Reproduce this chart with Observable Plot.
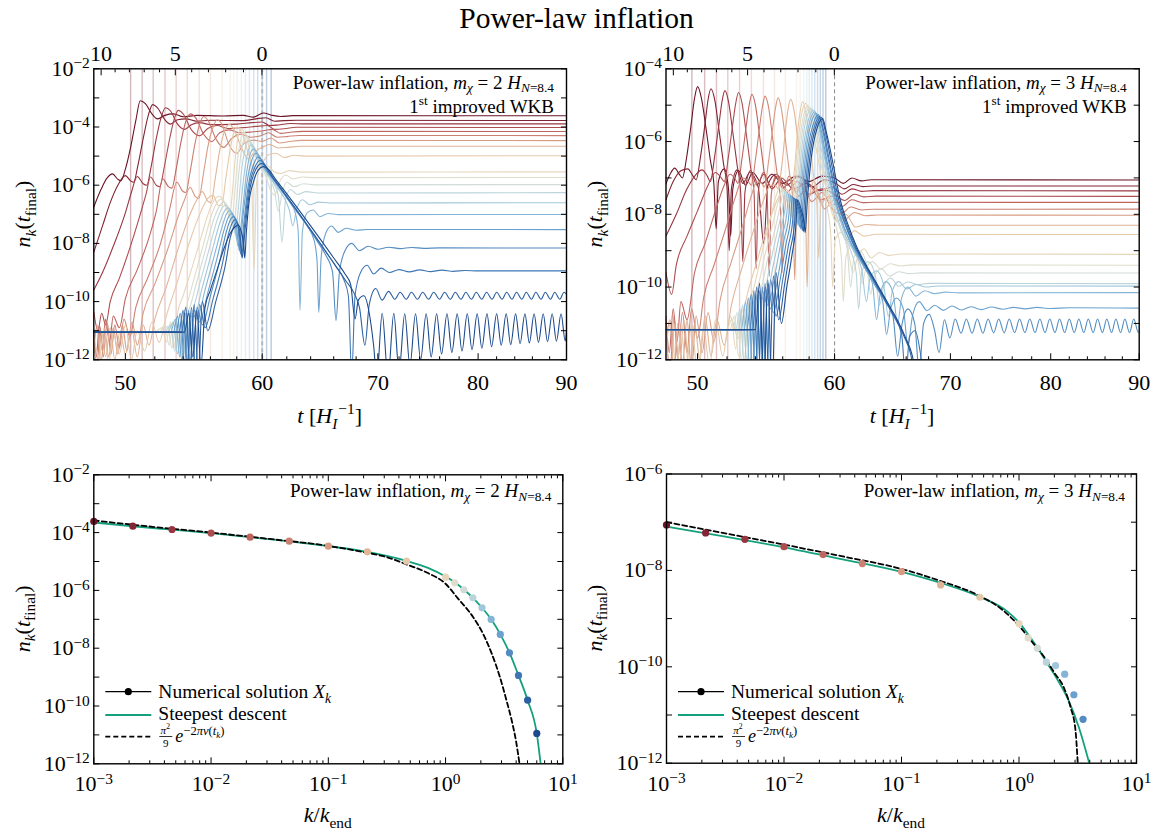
<!DOCTYPE html>
<html><head><meta charset="utf-8">
<script src="https://cdn.jsdelivr.net/npm/d3@7"></script>
<script src="https://cdn.jsdelivr.net/npm/@observablehq/plot@0.6"></script>
<style>
body{margin:0;background:#fff;}
#wrap{position:relative;width:1153px;height:832px;font-family:"Liberation Serif",serif;overflow:hidden;}
#title{position:absolute;left:0;top:2px;width:1153px;text-align:center;font-size:29.5px;color:#000;}
</style></head><body><div id="wrap"><div id="title">Power-law inflation</div></div>
<script>
// ---------------- DATA (log10 values) ----------------
// k / k_end of the 20 modes (log10)
const logK = [-3,-2.667,-2.333,-2,-1.667,-1.333,-1,-0.667,-0.333,0,0.078,0.156,0.233,0.311,0.389,0.467,0.545,0.622,0.700,0.778];
// final occupation numbers, m = 2H (log10)
const nkM2 = [-3.615,-3.776,-3.892,-4.018,-4.157,-4.295,-4.468,-4.664,-4.987,-5.541,-5.737,-5.979,-6.256,-6.602,-7.006,-7.525,-8.159,-8.943,-9.797,-10.95];
// final occupation numbers, m = 3H (log10) – visible modes only
const nkM3 = [-7.057,-7.223,-7.355,-7.507,-7.672,-7.859,-8.025,-8.301,-8.557,-9.103,-9.40,-9.614,-9.905,-9.974,-10.153,-10.58,-11.09];
// steepest descent curve [log10 k, log10 n]
const steepM2 = [[-3,-3.65],[-2.667,-3.78],[-2.333,-3.9],[-2,-4.02],[-1.667,-4.16],[-1.333,-4.3],[-1,-4.47],[-0.667,-4.67],[-0.333,-4.98],[-0.15,-5.22],[0,-5.52],[0.078,-5.72],[0.156,-5.97],[0.233,-6.26],[0.311,-6.6],[0.389,-7.0],[0.467,-7.52],[0.545,-8.15],[0.622,-8.94],[0.7,-9.8],[0.778,-10.95],[0.811,-12]];
const steepM3 = [[-3,-7.09],[-2.5,-7.3],[-2,-7.52],[-1.5,-7.77],[-1,-8.03],[-0.667,-8.26],[-0.333,-8.55],[-0.1,-8.85],[0,-9.08],[0.078,-9.33],[0.156,-9.6],[0.233,-9.9],[0.323,-10.25],[0.417,-10.67],[0.51,-11.26],[0.598,-12.0]];
// pi^2/9 exp(-2 pi nu) curve
const approxM2 = [[-3,-3.58],[-2.5,-3.8],[-2,-4.0],[-1.5,-4.22],[-1,-4.46],[-0.667,-4.7],[-0.5,-4.85],[-0.333,-5.1],[-0.15,-5.4],[0,-5.77],[0.1,-6.25],[0.236,-6.93],[0.32,-7.5],[0.394,-8.19],[0.46,-8.95],[0.52,-9.81],[0.57,-10.6],[0.6,-11.19],[0.631,-12.0]];
const approxM3 = [[-3,-7.0],[-2.5,-7.23],[-2,-7.465],[-1.5,-7.71],[-1,-7.97],[-0.667,-8.22],[-0.335,-8.53],[-0.15,-8.8],[0,-9.15],[0.1,-9.45],[0.23,-9.85],[0.3,-10.12],[0.385,-10.45],[0.44,-10.85],[0.48,-11.3],[0.5,-12.0]];
// mode-crossing times t_k (vertical guide lines)
const tkM2 = [50.35,51.13,51.89,52.71,53.50,54.30,55.17,56.0,56.88,57.5,57.77,58.03,58.36,58.68,58.99,59.33,59.64,60.0,60.35,60.72];
const tkM3 = [49.62,50.47,51.27,52.05,52.87,53.71,54.58,55.39,56.2,57.03,57.31,57.59,57.82,58.01,58.22,58.44,58.66,58.87,59.08,59.3];
// t axis ticks
const tMajor = [50,60,70,80,90];
const tMinor = [52,54,56,58,62,64,66,68,72,74,76,78,82,84,86,88];
// e-folds before end of inflation: tick positions in t (N = 10 ... 0)
const nFoldT = [48.41,49.32,50.27,51.27,52.33,53.44,54.62,55.85,57.15,58.52,59.98];
const nFoldLabels = ["10","","","","","5","","","","","0"];

// time evolution n_k(t): per mode, [t, log10 n]
const curvesM2 = [
[[47.94,-6.75],[48.4,-6.15],[48.8,-5.75],[49.15,-5.61],[49.5,-5.8],[49.7,-5.85],[50.0,-5.45],[50.35,-4.7],[50.7,-3.78],[51.0,-3.1],[51.35,-3.2],[51.8,-3.55],[52.2,-3.72],[52.7,-3.6],[53.3,-3.55],[54.0,-3.65],[55.0,-3.6],[57,-3.62],[58.5,-3.6],[59.3,-3.66],[60.1,-3.52],[60.8,-3.6],[61.5,-3.64],[62.5,-3.61],[90,-3.615]],
[[47.94,-8.3],[48.5,-7.4],[49.0,-6.6],[49.5,-6.0],[50.0,-5.67],[50.35,-5.85],[50.55,-5.9],[50.85,-5.3],[51.2,-4.4],[51.55,-3.6],[51.85,-3.23],[52.2,-3.35],[52.7,-3.75],[53.1,-3.9],[53.6,-3.75],[54.2,-3.72],[55.0,-3.8],[56,-3.77],[58.5,-3.78],[59.5,-3.72],[60.3,-3.68],[61.0,-3.8],[61.8,-3.78],[62.8,-3.77],[90,-3.776]],
[[47.94,-9.6],[48.5,-9.0],[49.2,-8.1],[50.0,-6.95],[50.4,-6.25],[50.8,-5.7],[51.2,-5.95],[51.45,-6.0],[51.75,-5.35],[52.1,-4.4],[52.45,-3.65],[52.75,-3.34],[53.1,-3.45],[53.6,-3.9],[54.1,-4.08],[54.6,-3.92],[55.2,-3.85],[56,-3.92],[58,-3.9],[59.2,-3.85],[60.0,-3.83],[60.6,-3.95],[61.3,-3.93],[62.3,-3.88],[63.5,-3.892],[90,-3.892]],
[[47.94,-10.35],[48.2,-11.0],[48.45,-10.4],[48.7,-10.8],[49.0,-10.0],[49.6,-9.2],[50.4,-8.0],[51.0,-7.0],[51.4,-6.3],[51.7,-5.72],[52.1,-6.0],[52.35,-6.05],[52.65,-5.4],[53.0,-4.5],[53.35,-3.75],[53.65,-3.43],[54.0,-3.55],[54.6,-4.1],[55.2,-4.3],[55.8,-4.05],[56.5,-3.95],[57.3,-4.05],[58.5,-4.02],[59.5,-3.98],[60.4,-3.95],[61.0,-4.08],[61.8,-4.06],[62.8,-4.01],[90,-4.018]],
[[47.94,-11.0],[48.1,-11.9],[48.3,-10.8],[48.5,-11.7],[48.7,-10.6],[48.95,-11.4],[49.2,-10.5],[49.6,-10.9],[50.0,-9.9],[50.8,-8.9],[51.6,-7.8],[52.1,-6.9],[52.55,-5.78],[52.95,-6.05],[53.2,-6.1],[53.5,-5.45],[53.85,-4.5],[54.2,-3.8],[54.55,-3.55],[54.9,-3.68],[55.5,-4.25],[56.1,-4.5],[56.7,-4.2],[57.4,-4.1],[58.2,-4.2],[59.2,-4.17],[60.2,-4.12],[60.8,-4.08],[61.5,-4.22],[62.3,-4.18],[63.3,-4.15],[90,-4.157]],
[[47.94,-11.3],[48.15,-12.2],[48.35,-10.9],[48.55,-11.9],[48.8,-10.7],[49.05,-11.8],[49.3,-10.8],[49.6,-11.6],[49.9,-10.6],[50.3,-11.2],[50.7,-10.2],[51.5,-9.2],[52.4,-8.0],[53.0,-6.9],[53.55,-5.9],[53.95,-6.2],[54.2,-6.25],[54.5,-5.55],[54.85,-4.6],[55.2,-3.9],[55.5,-3.64],[55.85,-3.8],[56.4,-4.4],[57.0,-4.7],[57.6,-4.4],[58.3,-4.25],[59.1,-4.35],[59.9,-4.3],[60.5,-4.2],[61.2,-4.35],[62.0,-4.33],[63,-4.29],[90,-4.295]],
[[47.94,-11.7],[48.15,-10.8],[48.4,-12.1],[48.65,-11.0],[48.9,-11.9],[49.2,-10.9],[49.5,-11.8],[49.8,-10.8],[50.1,-11.7],[50.45,-10.7],[50.8,-11.5],[51.2,-10.4],[52.0,-9.4],[52.9,-8.2],[53.7,-7.0],[54.1,-6.5],[54.5,-6.07],[54.9,-6.4],[55.15,-6.45],[55.45,-5.7],[55.8,-4.7],[56.2,-4.0],[56.5,-3.75],[56.85,-3.9],[57.4,-4.6],[58.0,-4.9],[58.6,-4.55],[59.3,-4.45],[60.0,-4.5],[60.7,-4.38],[61.4,-4.55],[62.2,-4.5],[63.2,-4.46],[90,-4.468]],
[[47.94,-11.4],[48.2,-12.2],[48.45,-11.0],[48.7,-11.9],[49.0,-10.9],[49.3,-12.0],[49.65,-11.0],[50.0,-11.8],[50.4,-10.9],[50.8,-11.9],[51.2,-10.8],[51.6,-11.5],[52.0,-10.6],[52.8,-9.5],[53.7,-8.1],[54.5,-7.0],[55.0,-6.5],[55.4,-6.22],[55.8,-6.55],[56.05,-6.6],[56.35,-5.8],[56.7,-4.8],[57.1,-4.1],[57.45,-3.91],[57.8,-4.1],[58.4,-4.75],[58.9,-5.1],[59.4,-4.85],[60.0,-4.7],[60.6,-4.6],[61.3,-4.72],[62.1,-4.7],[63.2,-4.66],[90,-4.664]],
[[47.94,-11.2],[48.3,-11.9],[48.6,-10.9],[48.9,-12.1],[49.2,-11.1],[49.6,-11.8],[50.0,-10.8],[50.4,-12.0],[50.8,-11.0],[51.3,-11.7],[51.8,-10.7],[52.3,-11.4],[52.8,-10.5],[53.6,-9.3],[54.5,-7.9],[55.3,-6.9],[55.8,-6.45],[56.2,-6.35],[56.6,-6.7],[56.85,-6.7],[57.15,-5.8],[57.5,-4.75],[57.8,-4.15],[58.05,-4.0],[58.4,-4.2],[58.9,-4.9],[59.4,-5.45],[59.9,-5.3],[60.5,-4.95],[61.1,-4.9],[61.8,-5.05],[62.6,-4.97],[63.5,-5.0],[90,-4.987]],
[[47.94,-11.05],[52.0,-11.05],[52.5,-10.9],[52.8,-11.4],[53.1,-10.7],[53.35,-11.6],[53.6,-10.4],[54.0,-9.8],[54.6,-8.9],[55.3,-7.8],[55.9,-6.9],[56.3,-6.5],[56.65,-6.38],[57.0,-6.55],[57.3,-6.95],[57.45,-7.1],[57.65,-6.3],[57.9,-5.0],[58.1,-4.35],[58.3,-4.05],[58.55,-4.15],[58.9,-4.6],[59.15,-5.6],[59.35,-8.9],[59.55,-5.9],[60.0,-5.3],[60.5,-5.35],[61.0,-5.55],[61.5,-5.6],[62.2,-5.5],[63.2,-5.55],[90,-5.541]],
[[47.94,-11.05],[52.3,-11.05],[52.7,-10.8],[53.0,-11.5],[53.3,-10.7],[53.6,-11.8],[53.9,-10.6],[54.2,-10.2],[54.8,-9.2],[55.5,-8.0],[56.1,-7.0],[56.5,-6.6],[56.8,-6.48],[57.15,-6.65],[57.45,-7.1],[57.6,-7.3],[57.8,-6.5],[58.05,-5.2],[58.3,-4.45],[58.5,-4.18],[58.75,-4.25],[59.2,-4.75],[59.8,-5.3],[60.3,-5.7],[60.7,-6.2],[61.0,-6.35],[61.4,-5.9],[61.9,-5.65],[62.5,-5.78],[63.3,-5.72],[64.3,-5.74],[90,-5.737]],
[[47.94,-11.05],[52.5,-11.05],[52.9,-10.85],[53.2,-11.6],[53.5,-10.6],[53.8,-11.9],[54.1,-10.5],[54.4,-10.3],[55.0,-9.3],[55.7,-8.1],[56.3,-7.1],[56.7,-6.7],[57.0,-6.58],[57.3,-6.75],[57.6,-7.25],[57.75,-7.5],[57.95,-6.7],[58.2,-5.4],[58.45,-4.6],[58.7,-4.32],[58.95,-4.4],[59.4,-4.9],[60.0,-5.4],[60.6,-5.8],[61.0,-6.2],[61.3,-6.9],[61.6,-6.3],[62.0,-5.9],[62.6,-6.05],[63.4,-5.95],[64.4,-5.99],[90,-5.979]],
[[47.94,-11.05],[52.7,-11.05],[53.1,-10.8],[53.4,-11.7],[53.7,-10.7],[54.0,-12.0],[54.3,-10.5],[54.6,-10.4],[55.2,-9.4],[55.9,-8.2],[56.5,-7.2],[56.85,-6.8],[57.15,-6.68],[57.45,-6.85],[57.75,-7.4],[57.9,-7.7],[58.1,-6.9],[58.35,-5.6],[58.65,-4.75],[58.9,-4.47],[59.15,-4.55],[59.6,-5.05],[60.2,-5.5],[60.8,-5.85],[61.3,-6.35],[61.6,-7.96],[61.9,-6.5],[62.3,-6.15],[62.9,-6.32],[63.6,-6.22],[64.6,-6.27],[90,-6.256]],
[[47.94,-11.05],[52.9,-11.05],[53.3,-10.7],[53.6,-11.8],[53.9,-10.6],[54.2,-11.9],[54.5,-10.5],[54.8,-10.5],[55.4,-9.5],[56.1,-8.3],[56.7,-7.3],[57.05,-6.9],[57.3,-6.78],[57.6,-6.95],[57.9,-7.6],[58.0,-7.9],[58.25,-7.0],[58.55,-5.7],[58.85,-4.9],[59.1,-4.62],[59.35,-4.7],[59.8,-5.2],[60.4,-5.6],[61.1,-6.0],[61.8,-6.45],[62.2,-6.85],[62.5,-7.4],[62.8,-6.85],[63.3,-6.5],[63.9,-6.67],[64.7,-6.58],[65.6,-6.61],[90,-6.602]],
[[47.94,-11.05],[53.1,-11.05],[53.45,-10.6],[53.75,-11.9],[54.05,-10.5],[54.35,-12.1],[54.65,-10.4],[55.0,-10.6],[55.6,-9.6],[56.3,-8.4],[56.9,-7.4],[57.2,-7.0],[57.45,-6.88],[57.75,-7.05],[58.0,-7.8],[58.1,-8.1],[58.4,-7.1],[58.7,-5.8],[59.0,-5.0],[59.3,-4.76],[59.55,-4.85],[60.0,-5.3],[60.7,-5.7],[61.4,-6.1],[62.1,-6.5],[62.7,-6.95],[62.95,-7.6],[63.1,-10.3],[63.3,-7.6],[63.7,-6.95],[64.2,-6.85],[64.8,-7.08],[65.5,-6.97],[66.4,-7.01],[90,-7.006]],
[[47.94,-11.05],[53.3,-11.05],[53.6,-10.5],[53.9,-12.0],[54.2,-10.4],[54.5,-12.2],[54.8,-10.3],[55.2,-10.7],[55.8,-9.7],[56.5,-8.5],[57.05,-7.5],[57.35,-7.1],[57.6,-6.98],[57.9,-7.2],[58.1,-7.9],[58.2,-8.25],[58.45,-7.2],[58.8,-5.9],[59.2,-5.1],[59.5,-4.9],[59.75,-4.98],[60.2,-5.4],[60.9,-5.8],[61.6,-6.2],[62.3,-6.6],[63.0,-7.0],[63.7,-7.4],[64.3,-7.9],[64.55,-8.6],[64.7,-10.37],[64.9,-8.5],[65.3,-7.65],[65.8,-7.4],[66.4,-7.62],[67.1,-7.48],[68.0,-7.55],[69.0,-7.52],[90,-7.525]],
[[47.94,-11.05],[53.5,-11.05],[53.8,-10.4],[54.1,-12.1],[54.4,-10.3],[54.7,-12.3],[55.0,-10.2],[55.4,-10.8],[56.0,-9.8],[56.7,-8.6],[57.2,-7.6],[57.5,-7.2],[57.75,-7.08],[58.05,-7.3],[58.22,-8.1],[58.3,-8.35],[58.55,-7.3],[58.9,-6.0],[59.35,-5.25],[59.65,-5.03],[59.9,-5.1],[60.4,-5.5],[61.1,-5.9],[61.8,-6.3],[62.5,-6.7],[63.2,-7.1],[63.9,-7.5],[64.6,-7.95],[65.3,-8.4],[65.9,-9.0],[66.2,-10.65],[66.5,-9.0],[67.0,-8.25],[67.6,-8.0],[68.3,-8.25],[69.1,-8.1],[70.0,-8.2],[71.0,-8.13],[72.1,-8.18],[73.2,-8.14],[74.4,-8.17],[76,-8.155],[90,-8.159]],
[[47.94,-11.05],[53.7,-11.05],[54.0,-10.3],[54.3,-12.2],[54.6,-10.2],[54.9,-12.4],[55.2,-10.1],[55.6,-10.9],[56.2,-9.9],[56.9,-8.7],[57.35,-7.7],[57.65,-7.3],[57.88,-7.18],[58.1,-7.4],[58.3,-8.1],[58.37,-8.45],[58.6,-7.4],[58.95,-6.1],[59.45,-5.35],[59.8,-5.15],[60.05,-5.2],[60.6,-5.6],[61.3,-6.0],[62.0,-6.4],[62.7,-6.8],[63.4,-7.2],[64.1,-7.6],[64.8,-8.0],[65.5,-8.4],[66.2,-8.8],[66.9,-9.25],[67.3,-9.8],[67.6,-12.5],[67.9,-9.8],[68.4,-9.0],[69.0,-8.75],[69.6,-9.05],[70.3,-8.85],[71.1,-9.0],[72.0,-8.9],[73.0,-8.98],[74.0,-8.91],[75.1,-8.97],[76.2,-8.92],[77.4,-8.96],[78.6,-8.93],[80,-8.945],[90,-8.943]],
[[47.94,-11.05],[53.9,-11.05],[54.2,-10.2],[54.5,-12.3],[54.8,-10.1],[55.1,-12.5],[55.4,-10.0],[55.8,-11.0],[56.4,-10.0],[57.1,-8.8],[57.5,-7.8],[57.8,-7.4],[58.0,-7.28],[58.2,-7.5],[58.36,-8.2],[58.42,-8.5],[58.65,-7.5],[59.0,-6.2],[59.5,-5.45],[59.95,-5.26],[60.2,-5.3],[60.8,-5.7],[61.5,-6.1],[62.2,-6.5],[62.9,-6.9],[63.6,-7.3],[64.3,-7.7],[65.0,-8.1],[65.7,-8.5],[66.4,-8.9],[67.1,-9.3],[67.8,-9.7],[68.3,-10.2],[68.8,-11.5],[69.2,-10.1],[69.8,-9.55],[70.4,-9.95],[71.0,-9.65],[71.6,-9.92],[72.1,-9.68],[72.7,-9.92],[73.2,-9.68],[73.8,-9.92],[74.3,-9.68],[74.9,-9.92],[75.4,-9.68],[76.0,-9.92],[76.5,-9.68],[77.1,-9.92],[77.6,-9.68],[78.2,-9.92],[78.7,-9.68],[79.3,-9.92],[79.8,-9.68],[80.4,-9.92],[80.9,-9.68],[81.5,-9.92],[82.0,-9.68],[82.6,-9.92],[83.1,-9.68],[83.7,-9.92],[84.2,-9.68],[84.8,-9.92],[85.3,-9.68],[85.9,-9.92],[86.4,-9.68],[87.0,-9.92],[87.5,-9.68],[88.1,-9.92],[88.6,-9.68],[89.2,-9.92],[89.7,-9.68],[90,-9.75]],
[[47.94,-11.05],[54.1,-11.05],[54.4,-10.4],[54.7,-11.9],[55.0,-10.3],[55.3,-12.2],[55.6,-10.2],[56.0,-9.6],[56.5,-8.9],[57.0,-8.2],[57.5,-7.65],[57.9,-7.42],[58.1,-7.37],[58.35,-7.6],[58.55,-8.1],[58.62,-8.5],[58.75,-7.6],[58.95,-6.6],[59.3,-5.9],[59.65,-5.5],[60.1,-5.36],[60.5,-5.45],[61.0,-5.75],[62.0,-6.3],[63.0,-6.85],[64.0,-7.4],[65.0,-7.95],[66.0,-8.5],[67.0,-9.05],[67.5,-9.4],[67.9,-10.6],[68.2,-9.95],[68.7,-9.8],[69.2,-10.4],[69.6,-11.5],[69.9,-12.6],[70.4,-10.4],[70.95,-12.6],[71.5,-10.4],[72.0,-12.4],[72.55,-10.42],[73.05,-12.2],[73.6,-10.42],[74.1,-12.0],[74.65,-10.42],[75.15,-11.9],[75.7,-10.42],[76.2,-11.8],[76.75,-10.42],[77.25,-11.75],[77.8,-10.42],[78.3,-11.7],[78.85,-10.42],[79.35,-11.65],[79.9,-10.42],[80.4,-11.6],[80.95,-10.42],[81.45,-11.55],[82.0,-10.42],[82.5,-11.5],[83.05,-10.42],[83.55,-11.48],[84.1,-10.42],[84.6,-11.45],[85.15,-10.42],[85.65,-11.42],[86.2,-10.42],[86.7,-11.4],[87.25,-10.42],[87.75,-11.38],[88.3,-10.42],[88.8,-11.36],[89.35,-10.42],[89.85,-11.35],[90,-11.0]]
];

const curvesM3 = [
[[47.94,-7.16],[48.2,-6.9],[48.5,-6.73],[48.8,-6.9],[49.0,-7.0],[49.25,-6.5],[49.55,-5.6],[49.8,-4.8],[50.0,-4.49],[50.25,-4.8],[50.55,-5.6],[50.85,-6.5],[51.1,-7.2],[51.25,-8.4],[51.4,-7.1],[51.8,-6.75],[52.1,-7.3],[52.25,-8.6],[52.4,-7.3],[52.8,-6.8],[53.3,-7.2],[53.8,-6.85],[54.5,-7.15],[55.2,-6.9],[56.0,-7.15],[57.0,-6.95],[58.0,-7.1],[59.0,-6.95],[60.0,-7.0],[60.7,-7.15],[61.4,-7.0],[62.2,-7.08],[63.0,-7.05],[90,-7.057]],
[[47.94,-7.6],[48.4,-7.1],[48.9,-6.8],[49.35,-6.75],[49.7,-6.95],[49.9,-7.05],[50.2,-6.4],[50.5,-5.5],[50.7,-4.85],[50.9,-4.55],[51.15,-4.85],[51.45,-5.7],[51.75,-6.6],[52.0,-7.3],[52.15,-9.0],[52.3,-7.3],[52.7,-6.78],[53.1,-7.15],[53.6,-6.85],[54.2,-7.25],[54.6,-8.8],[54.9,-7.2],[55.5,-6.9],[56.3,-7.2],[57.2,-6.95],[58.2,-7.25],[59.2,-7.05],[60.1,-7.15],[60.8,-7.3],[61.5,-7.18],[62.3,-7.24],[63.2,-7.22],[90,-7.223]],
[[47.94,-8.6],[48.6,-8.0],[49.3,-7.3],[49.9,-6.9],[50.3,-6.78],[50.65,-6.95],[50.85,-7.1],[51.15,-6.4],[51.45,-5.5],[51.65,-4.9],[51.85,-4.6],[52.1,-4.9],[52.4,-5.75],[52.7,-6.65],[52.95,-7.4],[53.1,-9.3],[53.25,-7.4],[53.65,-6.8],[54.1,-7.2],[54.6,-6.9],[55.2,-7.3],[55.9,-7.0],[56.8,-7.3],[57.8,-7.15],[58.8,-7.35],[59.8,-7.25],[60.6,-7.45],[61.4,-7.3],[62.2,-7.37],[63.2,-7.35],[90,-7.355]],
[[47.94,-9.6],[48.3,-10.2],[48.6,-9.4],[49.3,-8.6],[50.0,-7.9],[50.7,-7.2],[51.2,-6.85],[51.6,-7.0],[51.8,-7.1],[52.1,-6.4],[52.4,-5.5],[52.6,-4.95],[52.8,-4.65],[53.05,-4.95],[53.35,-5.8],[53.65,-6.7],[53.9,-7.4],[54.05,-9.5],[54.2,-7.4],[54.6,-6.85],[55.1,-7.25],[55.6,-6.95],[56.3,-7.4],[57.1,-7.1],[58.0,-7.45],[59.0,-7.3],[60.0,-7.45],[60.8,-7.62],[61.6,-7.45],[62.4,-7.52],[63.4,-7.5],[90,-7.507]],
[[47.94,-10.8],[48.15,-11.8],[48.4,-10.6],[48.65,-11.5],[48.9,-10.4],[49.3,-10.9],[49.8,-9.6],[50.5,-8.8],[51.2,-7.9],[51.8,-7.2],[52.2,-6.9],[52.6,-7.05],[52.75,-7.15],[53.05,-6.45],[53.35,-5.55],[53.55,-5.0],[53.75,-4.7],[54.0,-5.0],[54.3,-5.85],[54.6,-6.75],[54.85,-7.45],[55.0,-9.7],[55.15,-7.45],[55.55,-6.9],[56.0,-7.3],[56.5,-7.05],[57.2,-7.5],[58.0,-7.2],[58.9,-7.6],[59.8,-7.5],[60.6,-7.78],[61.4,-7.6],[62.3,-7.68],[63.3,-7.67],[90,-7.672]],
[[47.94,-11.2],[48.2,-12.3],[48.45,-10.8],[48.7,-12.0],[49.0,-10.7],[49.3,-11.8],[49.6,-10.6],[50.0,-11.4],[50.4,-10.3],[51.1,-9.4],[51.9,-8.4],[52.6,-7.5],[53.1,-7.0],[53.5,-7.1],[53.7,-7.2],[54.0,-6.5],[54.3,-5.6],[54.5,-5.05],[54.7,-4.75],[54.95,-5.05],[55.25,-5.9],[55.55,-6.8],[55.8,-7.5],[55.95,-9.6],[56.1,-7.5],[56.5,-6.95],[57.0,-7.4],[57.5,-7.15],[58.2,-7.65],[59.0,-7.4],[59.8,-7.85],[60.5,-8.0],[61.3,-7.8],[62.2,-7.88],[63.2,-7.86],[90,-7.859]],
[[47.94,-11.5],[48.2,-10.9],[48.45,-12.4],[48.7,-11.0],[49.0,-12.1],[49.3,-10.9],[49.6,-12.3],[49.9,-10.8],[50.3,-11.8],[50.7,-10.7],[51.1,-11.5],[51.5,-10.4],[52.3,-9.3],[53.1,-8.3],[53.7,-7.5],[54.1,-7.1],[54.45,-7.15],[54.65,-7.25],[54.95,-6.55],[55.25,-5.65],[55.45,-5.1],[55.65,-4.8],[55.9,-5.1],[56.2,-5.95],[56.5,-6.85],[56.75,-7.55],[56.9,-9.8],[57.05,-7.55],[57.45,-7.0],[57.95,-7.5],[58.5,-7.3],[59.2,-7.85],[60.0,-7.6],[60.8,-8.15],[61.6,-7.95],[62.5,-8.04],[63.5,-8.02],[90,-8.025]],
[[47.94,-11.3],[48.25,-12.5],[48.5,-11.0],[48.8,-12.2],[49.1,-10.9],[49.45,-12.4],[49.8,-11.0],[50.15,-12.0],[50.5,-10.8],[50.9,-11.9],[51.3,-10.9],[51.8,-11.6],[52.3,-10.5],[53.1,-9.4],[53.9,-8.4],[54.6,-7.6],[55.1,-7.2],[55.45,-7.2],[55.65,-7.3],[55.95,-6.6],[56.2,-5.7],[56.4,-5.1],[56.6,-4.84],[56.85,-5.15],[57.15,-6.0],[57.45,-6.9],[57.7,-7.6],[57.85,-10.0],[58.0,-7.6],[58.4,-7.1],[58.9,-7.7],[59.5,-7.5],[60.2,-8.2],[60.9,-8.0],[61.7,-8.35],[62.6,-8.28],[63.6,-8.3],[90,-8.301]],
[[47.94,-11.6],[48.3,-10.9],[48.6,-12.6],[48.9,-11.1],[49.25,-12.3],[49.6,-11.0],[50.0,-12.4],[50.4,-11.1],[50.8,-12.2],[51.2,-10.9],[51.7,-11.9],[52.2,-10.8],[52.8,-11.4],[53.3,-10.4],[54.1,-9.3],[54.9,-8.3],[55.6,-7.6],[56.1,-7.3],[56.4,-7.35],[56.6,-7.45],[56.9,-6.7],[57.1,-5.8],[57.3,-5.2],[57.5,-4.9],[57.75,-5.2],[58.05,-6.05],[58.35,-6.95],[58.6,-7.7],[58.75,-9.2],[58.9,-7.8],[59.3,-7.3],[59.8,-7.9],[60.4,-7.8],[61.0,-8.7],[61.6,-8.45],[62.4,-8.6],[63.4,-8.55],[90,-8.557]],
[[47.94,-11.17],[52.0,-11.17],[52.3,-10.9],[52.6,-11.7],[52.9,-10.7],[53.2,-12.1],[53.5,-10.5],[53.9,-10.0],[54.5,-9.0],[55.1,-8.1],[55.5,-7.5],[55.8,-7.25],[56.15,-7.45],[56.45,-7.8],[56.6,-8.05],[56.85,-7.2],[57.15,-6.0],[57.45,-5.2],[57.75,-4.95],[58.05,-5.25],[58.5,-6.1],[58.95,-6.95],[59.4,-7.8],[59.7,-8.6],[59.85,-10.0],[60.05,-8.7],[60.5,-8.5],[61.0,-8.85],[61.5,-9.6],[61.8,-9.25],[62.4,-8.95],[63.0,-9.2],[63.7,-9.05],[64.5,-9.13],[65.5,-9.09],[90,-9.103]],
[[47.94,-11.17],[52.2,-11.17],[52.5,-10.8],[52.8,-11.9],[53.1,-10.6],[53.4,-12.2],[53.7,-10.4],[54.1,-10.1],[54.7,-9.1],[55.3,-8.2],[55.7,-7.6],[55.93,-7.3],[56.3,-7.5],[56.6,-7.85],[56.71,-8.1],[56.95,-7.25],[57.25,-6.05],[57.6,-5.25],[57.9,-5.0],[58.2,-5.3],[58.7,-6.2],[59.2,-7.1],[59.7,-7.85],[60.2,-8.45],[60.55,-9.2],[60.7,-10.4],[60.9,-9.2],[61.35,-8.85],[61.85,-9.2],[62.25,-9.9],[62.55,-9.5],[63.1,-9.3],[63.8,-9.5],[64.6,-9.36],[65.5,-9.42],[66.5,-9.39],[90,-9.40]],
[[47.94,-11.17],[52.4,-11.17],[52.7,-10.7],[53.0,-12.0],[53.3,-10.6],[53.6,-12.3],[53.9,-10.4],[54.3,-10.2],[54.9,-9.2],[55.5,-8.3],[55.85,-7.7],[56.06,-7.33],[56.4,-7.52],[56.72,-7.88],[56.82,-8.15],[57.05,-7.3],[57.35,-6.1],[57.7,-5.3],[58.05,-5.05],[58.35,-5.35],[58.85,-6.25],[59.4,-7.2],[59.95,-7.9],[60.5,-8.45],[61.0,-8.9],[61.3,-10.0],[61.55,-9.2],[62.05,-9.0],[62.65,-9.45],[62.95,-10.2],[63.25,-9.7],[63.85,-9.5],[64.55,-9.7],[65.35,-9.58],[66.3,-9.63],[67.3,-9.61],[90,-9.614]],
[[47.94,-11.17],[52.6,-11.17],[52.9,-10.6],[53.2,-12.1],[53.5,-10.5],[53.8,-12.4],[54.1,-10.3],[54.5,-10.3],[55.1,-9.3],[55.65,-8.4],[56.0,-7.8],[56.19,-7.37],[56.5,-7.56],[56.83,-7.92],[56.93,-8.2],[57.15,-7.35],[57.45,-6.15],[57.8,-5.35],[58.2,-5.1],[58.5,-5.4],[59.0,-6.3],[59.55,-7.25],[60.1,-7.95],[60.7,-8.55],[61.3,-9.0],[61.75,-9.6],[61.95,-10.6],[62.2,-9.6],[62.75,-9.3],[63.35,-9.7],[63.7,-10.5],[64.05,-10.0],[64.65,-9.75],[65.35,-9.98],[66.15,-9.86],[67.05,-9.93],[68.0,-9.9],[90,-9.905]],
[[47.94,-11.17],[52.8,-11.17],[53.1,-10.5],[53.4,-12.2],[53.7,-10.4],[54.0,-12.5],[54.3,-10.2],[54.7,-10.4],[55.3,-9.4],[55.8,-8.5],[56.15,-7.9],[56.32,-7.41],[56.62,-7.6],[56.94,-7.96],[57.04,-8.25],[57.25,-7.4],[57.55,-6.2],[57.95,-5.4],[58.35,-5.14],[58.65,-5.45],[59.15,-6.35],[59.7,-7.3],[60.3,-8.0],[60.9,-8.6],[61.6,-9.05],[62.2,-9.5],[62.6,-10.4],[62.9,-9.75],[63.45,-9.55],[64.05,-9.95],[64.45,-10.8],[64.8,-10.1],[65.35,-9.85],[66.05,-10.05],[66.85,-9.93],[67.75,-10.0],[68.9,-9.97],[90,-9.974]],
[[47.94,-11.17],[53.0,-11.17],[53.3,-10.4],[53.6,-12.3],[53.9,-10.3],[54.2,-12.6],[54.5,-10.1],[54.9,-10.5],[55.5,-9.5],[55.95,-8.6],[56.3,-8.0],[56.45,-7.44],[56.75,-7.63],[57.05,-8.0],[57.15,-8.3],[57.35,-7.45],[57.65,-6.25],[58.05,-5.45],[58.45,-5.18],[58.75,-5.5],[59.25,-6.4],[59.8,-7.35],[60.4,-8.05],[61.1,-8.65],[61.8,-9.1],[62.5,-9.5],[63.1,-9.9],[63.45,-10.9],[63.75,-10.2],[64.25,-9.85],[64.85,-10.15],[65.25,-11.0],[65.6,-10.3],[66.15,-10.0],[66.85,-10.25],[67.65,-10.1],[68.55,-10.18],[69.55,-10.14],[70.8,-10.16],[90,-10.153]],
[[47.94,-11.17],[53.2,-11.17],[53.5,-10.3],[53.8,-12.4],[54.1,-10.2],[54.4,-12.7],[54.7,-10.0],[55.1,-10.6],[55.7,-9.6],[56.1,-8.7],[56.45,-8.05],[56.58,-7.48],[56.88,-7.67],[57.16,-8.05],[57.26,-8.35],[57.45,-7.5],[57.75,-6.3],[58.15,-5.5],[58.55,-5.22],[58.85,-5.55],[59.35,-6.45],[59.9,-7.4],[60.5,-8.1],[61.2,-8.7],[61.9,-9.15],[62.6,-9.55],[63.3,-9.95],[63.95,-10.35],[64.3,-11.3],[64.65,-10.6],[65.15,-10.3],[65.75,-10.6],[66.15,-11.6],[66.55,-10.8],[67.15,-10.4],[67.85,-10.65],[68.55,-10.5],[69.35,-10.64],[70.15,-10.52],[71.05,-10.63],[71.95,-10.54],[72.95,-10.62],[73.95,-10.55],[75.05,-10.61],[76.15,-10.56],[77.35,-10.6],[78.55,-10.56],[80,-10.59],[82,-10.57],[90,-10.58]],
[[47.94,-11.17],[53.4,-11.17],[53.7,-10.2],[54.0,-12.5],[54.3,-10.1],[54.6,-12.8],[54.9,-9.9],[55.3,-10.7],[55.85,-9.7],[56.25,-8.8],[56.6,-8.1],[56.71,-7.52],[57.0,-7.71],[57.27,-8.1],[57.37,-8.4],[57.55,-7.55],[57.85,-6.35],[58.3,-5.55],[58.7,-5.26],[59.0,-5.6],[59.5,-6.5],[60.05,-7.45],[60.7,-8.15],[61.4,-8.75],[62.1,-9.2],[62.8,-9.6],[63.5,-10.0],[64.2,-10.4],[64.85,-10.8],[65.25,-11.9],[65.65,-11.0],[66.15,-10.6],[66.75,-11.0],[67.15,-12.3],[67.55,-11.0],[68.05,-10.75],[68.55,-11.2],[68.95,-11.8],[69.45,-10.9],[69.95,-11.4],[70.45,-10.88],[71.0,-11.27],[71.5,-10.88],[72.05,-11.27],[72.55,-10.88],[73.1,-11.27],[73.6,-10.88],[74.15,-11.26],[74.65,-10.88],[75.2,-11.26],[75.7,-10.88],[76.25,-11.25],[76.75,-10.88],[77.3,-11.25],[77.8,-10.88],[78.35,-11.25],[78.85,-10.88],[79.4,-11.25],[79.9,-10.88],[80.45,-11.25],[80.95,-10.88],[81.5,-11.25],[82.0,-10.88],[82.55,-11.25],[83.05,-10.88],[83.6,-11.25],[84.1,-10.88],[84.65,-11.25],[85.15,-10.88],[85.7,-11.25],[86.2,-10.88],[86.75,-11.25],[87.25,-10.88],[87.8,-11.25],[88.3,-10.88],[88.85,-11.25],[89.35,-10.88],[89.9,-11.25],[90,-11.2]],
[[47.94,-11.17],[53.6,-11.17],[53.9,-10.1],[54.2,-12.6],[54.5,-10.0],[54.8,-12.9],[55.1,-9.8],[55.5,-10.8],[56.0,-9.8],[56.4,-8.9],[56.75,-8.15],[56.84,-7.56],[57.12,-7.75],[57.38,-8.15],[57.48,-8.45],[57.65,-7.6],[57.95,-6.4],[58.4,-5.6],[58.8,-5.3],[59.1,-5.65],[59.6,-6.55],[60.15,-7.5],[60.8,-8.2],[61.5,-8.8],[62.2,-9.25],[62.9,-9.65],[63.6,-10.05],[64.3,-10.45],[65.0,-10.85],[65.6,-11.3],[65.95,-12.5],[66.3,-11.35],[66.8,-11.2],[67.25,-11.8],[67.6,-12.6]],
[[47.94,-11.17],[53.8,-11.17],[54.1,-10.0],[54.4,-12.7],[54.7,-9.9],[55.0,-13],[55.3,-9.7],[55.7,-10.9],[56.15,-9.9],[56.55,-9.0],[56.9,-8.2],[56.97,-7.58],[57.25,-7.8],[57.5,-8.2],[57.59,-8.48],[57.75,-7.65],[58.05,-6.45],[58.5,-5.62],[58.95,-5.33],[59.25,-5.7],[59.75,-6.6],[60.3,-7.55],[60.95,-8.25],[61.65,-8.85],[62.35,-9.3],[63.05,-9.7],[63.75,-10.1],[64.45,-10.5],[65.15,-10.9],[65.8,-11.35],[66.4,-11.85],[66.8,-12.6]],
[[47.94,-11.17],[54.0,-11.17],[54.3,-9.9],[54.6,-12.8],[54.9,-9.8],[55.2,-13],[55.5,-9.6],[55.9,-11.0],[56.3,-10.0],[56.7,-9.1],[57.0,-8.25],[57.1,-7.6],[57.38,-7.85],[57.62,-8.25],[57.7,-8.5],[57.85,-7.7],[58.15,-6.5],[58.6,-5.65],[59.05,-5.37],[59.35,-5.75],[59.9,-6.65],[60.45,-7.6],[61.1,-8.3],[61.8,-8.9],[62.5,-9.35],[63.2,-9.75],[63.9,-10.15],[64.6,-10.55],[65.3,-10.95],[65.95,-11.4],[66.55,-11.9],[66.95,-12.6]]
];

// ---------------- STYLE ----------------
const FONT = "Liberation Serif";
const GREEN = "#14a07c";
const palette = d3.interpolateRgbBasis(["#6a1426","#9e3441","#c46a62","#dca58a","#ebd7b4","#dfe2d6","#abcfe0","#6fa7d2","#3d78b8","#1c4a8e"]);
const col = i => palette(i / 19);
const wrap = document.getElementById("wrap");

function expStr(v){ const e = Math.round(Math.log10(v)); return (e < 0 ? "\u2212" : "") + Math.abs(e); }
function supify(svg){
  d3.select(svg).selectAll("text").each(function(){
    const m = /^10\^(.+)$/.exec(this.textContent);
    if (!m) return;
    const s = d3.select(this); s.text("");
    s.append("tspan").text("10");
    s.append("tspan").attr("dy","-0.48em").attr("font-size","0.7em").text(m[1]);
  });
}
// text with sub/superscripts; style: "" | "i" | "sub" | "subi" | "sup" | "supi" | "ssi" (subscript inside superscript)
function rich(svg, x, y, parts, {anchor = "start", size = 19, rotate = 0, subShift = 0.25} = {}){
  const t = d3.select(svg).append("text").attr("x", x).attr("y", y).attr("text-anchor", anchor)
    .attr("font-size", size).attr("font-family", FONT).attr("fill", "black");
  if (rotate) t.attr("transform", `rotate(${rotate},${x},${y})`);
  let cur = 0;
  for (const [s, st, dx] of parts){
    const sp = t.append("tspan").text(s);
    let shift = 0;
    if (st.startsWith("ss")) { shift = -0.22 * size; sp.attr("font-size", 0.5 * size); }
    else if (st.startsWith("sub")) { shift = subShift * size; sp.attr("font-size", 0.7 * size); }
    else if (st.startsWith("sup")) { shift = -0.4 * size; sp.attr("font-size", 0.7 * size); }
    if (st === "i" || st.endsWith("i")) sp.attr("font-style", "italic");
    if (dx) sp.attr("dx", dx);
    sp.attr("dy", shift - cur); cur = shift;
  }
  return t;
}
function place(svg, left, top){
  svg.style.position = "absolute"; svg.style.left = left + "px"; svg.style.top = top + "px";
  wrap.appendChild(svg); supify(svg);
}
const decades = (a, b) => d3.range(a, b + 1).map(e => 10 ** e);
const annot = m => [["Power-law inflation, ",""],["m","i"],["\u03c7","subi"],[" = " + m + " ",""],["H","i"],["N","subi"],["=8.4","sub"]];
const ylab = [["n","i"],["k","subi"],["(",""],["t","i"],["final","sub"],[")",""]];

function topPanel(curves, tk, yLo, yHi, g){
  const rows = curves.flatMap((pts, i) => pts.map(([t, v]) => ({i, t, n: 10 ** v})));
  const dec = decades(yLo, yHi);
  const lab = dec.filter((d, j) => j % 2 === 0);
  const nMap = new Map(nFoldT.map((t, j) => [t, nFoldLabels[j]]));
  const nMajor = nFoldT.filter((t, j) => nFoldLabels[j] !== "");
  const nMinor = nFoldT.filter((t, j) => nFoldLabels[j] === "");
  const svg = Plot.plot({
    width: g.w, height: 440, marginLeft: g.ml, marginRight: g.mr, marginTop: 68.3, marginBottom: 80.7,
    x: {type: "log", domain: [47.94, 90]},
    y: {type: "log", domain: [10 ** yLo, 10 ** yHi]},
    color: {type: "identity"},
    style: {fontFamily: FONT, fontSize: "22px", background: "transparent", overflow: "visible", color: "black"},
    marks: [
      Plot.ruleX(tk, {x: d => d, stroke: (d, i) => col(i), strokeOpacity: 0.3, strokeWidth: 1.4}),
      Plot.ruleX([60], {stroke: g.dashColor, strokeWidth: g.dashW, strokeDasharray: "4,3"}),
      Plot.line(rows, {x: "t", y: "n", z: "i", stroke: d => col(d.i), strokeWidth: 1.1, curve: "monotone-x", clip: true}),
      Plot.frame({stroke: "black", strokeWidth: 1.4}),
      Plot.axisX({anchor: "bottom", ticks: tMajor, tickSize: -6, fill: "none", label: null}),
      Plot.axisX({anchor: "bottom", ticks: tMinor, tickSize: -3, fill: "none", label: null}),
      Plot.axisX({anchor: "bottom", ticks: tMajor, tickSize: 0, tickPadding: 15, tickFormat: d => String(d), label: null}),
      Plot.axisX({anchor: "top", ticks: nMajor, tickSize: -6, fill: "none", label: null}),
      Plot.axisX({anchor: "top", ticks: nMinor, tickSize: -3, fill: "none", label: null}),
      Plot.axisX({anchor: "top", ticks: nMajor, tickSize: 0, tickPadding: 8, tickFormat: d => nMap.get(d), label: null}),
      Plot.axisY({anchor: "left", ticks: dec, tickSize: -6, fill: "none", label: null}),
      Plot.axisY({anchor: "right", ticks: dec, tickSize: -6, fill: "none", label: null}),
      Plot.axisY({anchor: "left", ticks: lab, tickSize: 0, tickPadding: 4, tickFormat: d => "10^" + expStr(d), label: null})
    ]
  });
  place(svg, g.left, 0);
  const x1 = g.w - g.mr - 12;
  rich(svg, x1, 88.5, annot(g.m), {anchor: "end", size: 19, subShift: 0.2});
  rich(svg, x1, 112.5, [["1",""],["st","sup"],[" improved WKB",""]], {anchor: "end", size: 19});
  rich(svg, g.ylx, 214, ylab, {anchor: "middle", size: 22, rotate: -90});
  rich(svg, (g.ml + g.w - g.mr) / 2, 423, [["t","i"],[" [",""],["H","i"],["I","subi"],["\u22121","sup",1],["]",""]], {anchor: "middle", size: 22});
}

function bottomPanel(nk, steep, approx, yLo, yHi, g){
  const dots = nk.map((v, i) => ({i, k: 10 ** logK[i], n: 10 ** v}));
  const s = steep.map(([a, b]) => ({k: 10 ** a, n: 10 ** b}));
  const a = approx.map(([p, q]) => ({k: 10 ** p, n: 10 ** q}));
  const dec = decades(yLo, yHi);
  const lab = dec.filter((d, j) => j % 2 === 0);
  const xMaj = decades(-3, 1);
  const xMin = d3.range(-3, 1).flatMap(e => d3.range(2, 10).map(m => m * 10 ** e));
  const svg = Plot.plot({
    width: g.w, height: 392, marginLeft: g.ml, marginRight: g.mr, marginTop: g.mt, marginBottom: 392 - g.fb,
    x: {type: "log", domain: [1e-3, 10]},
    y: {type: "log", domain: [10 ** yLo, 10 ** yHi]},
    color: {type: "identity"},
    style: {fontFamily: FONT, fontSize: "22px", background: "transparent", overflow: "visible", color: "black"},
    marks: [
      Plot.line(s, {x: "k", y: "n", stroke: GREEN, strokeWidth: 1.8, curve: "monotone-x", clip: true}),
      Plot.line(a, {x: "k", y: "n", stroke: "black", strokeWidth: 1.8, strokeDasharray: "5,3", curve: "monotone-x", clip: true}),
      Plot.dot(dots, {x: "k", y: "n", fill: d => col(d.i), r: 3.6}),
      Plot.frame({stroke: "black", strokeWidth: 1.4}),
      Plot.axisX({anchor: "bottom", ticks: xMaj, tickSize: -6, fill: "none", label: null}),
      Plot.axisX({anchor: "bottom", ticks: xMin, tickSize: -3, fill: "none", label: null}),
      Plot.axisX({anchor: "top", ticks: xMaj, tickSize: -6, fill: "none", label: null}),
      Plot.axisX({anchor: "top", ticks: xMin, tickSize: -3, fill: "none", label: null}),
      Plot.axisX({anchor: "bottom", ticks: xMaj, tickSize: 0, tickPadding: 12, tickFormat: d => "10^" + expStr(d), label: null}),
      Plot.axisY({anchor: "left", ticks: dec, tickSize: -6, fill: "none", label: null}),
      Plot.axisY({anchor: "right", ticks: dec, tickSize: -6, fill: "none", label: null}),
      Plot.axisY({anchor: "left", ticks: lab, tickSize: 0, tickPadding: 4, tickFormat: d => "10^" + expStr(d), label: null})
    ]
  });
  place(svg, g.left, 440);
  const x1 = g.w - g.mr - 11;
  rich(svg, x1, 57, annot(g.m), {anchor: "end", size: 19, subShift: 0.2});
  rich(svg, g.ylx, (g.mt + g.fb) / 2, ylab, {anchor: "middle", size: 22, rotate: -90});
  rich(svg, (g.ml + g.w - g.mr) / 2, 382, [["k","i"],["/",""],["k","i"],["end","sub"]], {anchor: "middle", size: 22});
  // legend
  const S = d3.select(svg), lx = g.ml + 12, tx = lx + 53;
  S.append("line").attr("x1", lx).attr("x2", lx + 46).attr("y1", 251.7).attr("y2", 251.7).attr("stroke", "black").attr("stroke-width", 1.2);
  S.append("circle").attr("cx", lx + 23).attr("cy", 251.7).attr("r", 3.6).attr("fill", "black");
  S.append("line").attr("x1", lx).attr("x2", lx + 46).attr("y1", 275).attr("y2", 275).attr("stroke", GREEN).attr("stroke-width", 1.8);
  S.append("line").attr("x1", lx).attr("x2", lx + 46).attr("y1", 296.7).attr("y2", 296.7).attr("stroke", "black").attr("stroke-width", 1.8).attr("stroke-dasharray", "5,3");
  rich(svg, tx, 258, [["Numerical solution ",""],["X","i"],["k","subi"]], {size: 19.5});
  rich(svg, tx, 280, [["Steepest descent",""]], {size: 19.5});
  rich(svg, tx + 7, 293.5, [["\u03c0","i"],["2","sup"]], {anchor: "middle", size: 11});
  S.append("line").attr("x1", tx + 1).attr("x2", tx + 14).attr("y1", 296.5).attr("y2", 296.5).attr("stroke", "black").attr("stroke-width", 0.8);
  rich(svg, tx + 7.5, 307, [["9",""]], {anchor: "middle", size: 11});
  rich(svg, tx + 17, 302, [["e","i"],["\u22122","sup"],["\u03c0\u03bd","supi"],["(","sup"],["t","supi"],["k","ssi"],[")","sup"]], {size: 18});
}

topPanel(curvesM2, tkM2, -12, -2, {left: 0, w: 580, ml: 93.3, mr: 14, m: 2, dashColor: "#b8b8b8", dashW: 2, ylx: 30});
topPanel(curvesM3, tkM3, -12, -4, {left: 580, w: 573, ml: 85.5, mr: 14.3, m: 3, dashColor: "#888", dashW: 1, ylx: 22});
bottomPanel(nkM2, steepM2, approxM2, -12, -2, {left: 0, w: 580, ml: 93.3, mr: 17.7, mt: 34.3, fb: 323.3, m: 2, ylx: 30});
bottomPanel(nkM3, steepM3, approxM3, -12, -6, {left: 580, w: 573, ml: 86, mr: 17, mt: 33.5, fb: 322.7, m: 3, ylx: 22});
</script></body></html>
